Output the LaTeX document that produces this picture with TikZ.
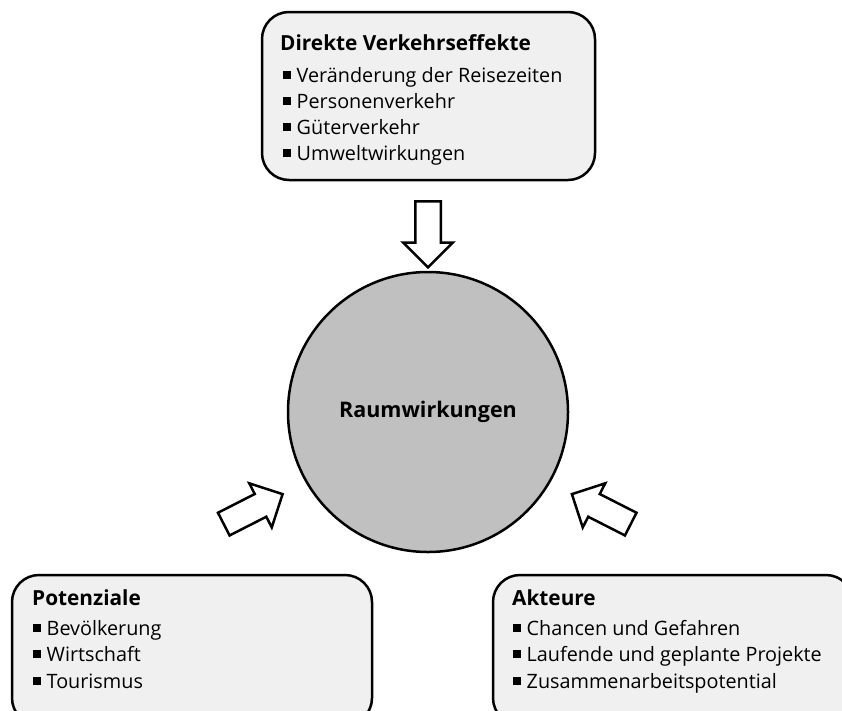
\documentclass[tikz,border=0pt]{standalone}
\usepackage{fontspec}
\setmainfont{Open Sans}
\usetikzlibrary{shapes.arrows}
\definecolor{panelgrey}{HTML}{F0F0F0}
\definecolor{circgrey}{HTML}{C0C0C0}
\newcommand{\bull}{\rule[3.5pt]{7.5pt}{7.5pt}\hspace{6pt}}
\newcommand{\drawpanel}{\node[draw, line width=2.5pt, fill=panelgrey, rounded corners=27pt, inner sep=0]}
\newcommand{\drawtitle}{\node[anchor=base west, inner sep=0, font=\fontsize{20.8}{24}\selectfont\bfseries]}
\newcommand{\drawitem}{\node[anchor=base west, inner sep=0, font=\fontsize{19.8}{23}\selectfont]}
\newcommand{\drawfat}{\node[draw, line width=2.5pt, fill=white, single arrow, minimum height=66pt, inner sep=11.5pt, single arrow head extend=12pt]}

\begin{document}
\begin{tikzpicture}[x=1pt, y=-1pt]
\useasboundingbox (0,0) rectangle (842,710);
\clip (0,0) rectangle (842,710);

%top box
\drawpanel[minimum width=333pt, minimum height=168pt] (dve) at (428.5,96) {};
\drawtitle (dveTitle) at (280,50) {Direkte Verkehrseffekte};
\drawitem (dve1) at (283,82) {\bull Veränderung der Reisezeiten};
\drawitem (dve2) at (283,108) {\bull Personenverkehr};
\drawitem (dve3) at (283,134) {\bull Güterverkehr};
\drawitem (dve4) at (283,160) {\bull Umweltwirkungen};

%bottom left box
\drawpanel[minimum width=360pt, minimum height=150pt] (pot) at (192,650) {};
\drawtitle (potTitle) at (32,605) {Potenziale};
\drawitem (pot1) at (33,635) {\bull Bevölkerung};
\drawitem (pot2) at (33,661) {\bull Wirtschaft};
\drawitem (pot3) at (33,688) {\bull Tourismus};

%bottom right box
\drawpanel[minimum width=360pt, minimum height=150pt] (akt) at (673,650) {};
\drawtitle (aktTitle) at (512,605) {Akteure};
\drawitem (akt1) at (513,635) {\bull Chancen und Gefahren};
\drawitem (akt2) at (513,661) {\bull Laufende und geplante Projekte};
\drawitem (akt3) at (513,688) {\bull Zusammenarbeitspotential};

%centre
\node[draw, circle, line width=2.5pt, fill=circgrey, minimum size=280pt, font=\fontsize{21.5}{25}\selectfont\bfseries] (raum) at (428,412) {Raumwirkungen};

%block arrows
\drawfat[rotate=-90] (downArrow) at (428,228) {};
\drawfat[rotate=27] (leftArrow) at (247.5,512) {};
\drawfat[rotate=153] (rightArrow) at (607,512) {};
\end{tikzpicture}
\end{document}
